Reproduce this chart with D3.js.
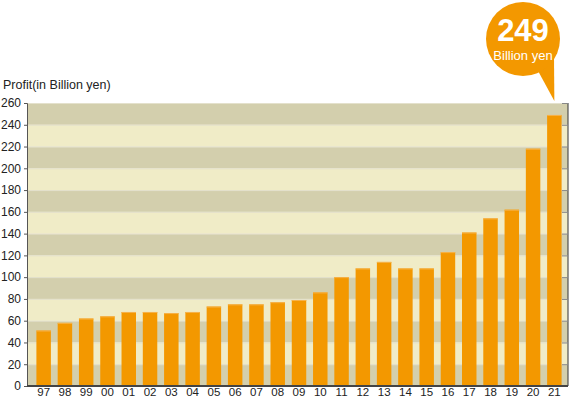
<!DOCTYPE html>
<html><head><meta charset="utf-8">
<script src="https://cdn.jsdelivr.net/npm/d3@7"></script>
<style>body{margin:0;background:#fff}svg{display:block;font-family:"Liberation Sans",Arial,sans-serif}</style>
</head><body><svg id="c" width="571" height="399"></svg>
<script>
const years = ["97","98","99","00","01","02","03","04","05","06","07","08","09","10","11","12","13","14","15","16","17","18","19","20","21"];
const profit = [51,58,62,64,68,68,67,68,73,75,75,77,79,86,100,108,114,108,108,123,141,154,162,218,249];
const yTicks = [0,20,40,60,80,100,120,140,160,180,200,220,240,260];
const highlightValue = "249";
const highlightUnit = "Billion yen";
const yTitle = "Profit(in Billion yen)";

const svg = d3.select("#c");
const L = 27, R = 568, T = 103, B = 386;
const y = d3.scaleLinear().domain([0,260]).range([B,T]);
const x = d3.scaleBand().domain(years).range([33,565]).paddingInner(0.32).paddingOuter(0.16);

// bands
const bands = d3.range(13);
svg.append("g").selectAll("rect").data(bands).join("rect")
  .attr("x", L).attr("width", R-L)
  .attr("y", d => y((d+1)*20)).attr("height", d => y(d*20)-y((d+1)*20))
  .attr("fill", d => d%2===0 ? "#d3cfad" : "#f0ecc7");
// light separators
svg.append("g").selectAll("line").data(yTicks.slice(1)).join("line")
  .attr("x1", L).attr("x2", R).attr("y1", d=>y(d)+0.5).attr("y2", d=>y(d)+0.5)
  .attr("stroke", "#e4e1cc").attr("stroke-width",1);

// bars
svg.append("g").selectAll("rect").data(years).join("rect")
  .attr("x", d => x(d)).attr("width", x.bandwidth())
  .attr("y", (d,i) => y(profit[i])).attr("height", (d,i) => B - y(profit[i]))
  .attr("fill", "#f39800");
svg.append("g").selectAll("line").data(years).join("line")
  .attr("x1", d => x(d)).attr("x2", d => x(d)+x.bandwidth())
  .attr("y1", (d,i) => y(profit[i])+0.5).attr("y2", (d,i) => y(profit[i])+0.5)
  .attr("stroke", "#f6b24a");

// left axis
const ya = svg.append("g").attr("transform", `translate(${L},0)`)
  .call(d3.axisLeft(y).tickValues(yTicks).tickSize(3).tickPadding(3));
ya.select(".domain").attr("stroke","#555");
ya.selectAll(".tick line").attr("stroke","#555");
ya.selectAll("text").attr("font-size",12).attr("fill","#222").attr("font-family","Liberation Sans, Arial, sans-serif");

// right axis
const yr = svg.append("g").attr("transform", `translate(${R},0)`)
  .call(d3.axisLeft(y).tickValues(yTicks).tickSize(6).tickFormat(""));
yr.select(".domain").attr("stroke","#333").attr("d", `M0,${T}V${B}`);
yr.selectAll(".tick line").attr("stroke","#888");

// bottom axis
const xa = svg.append("g").attr("transform", `translate(0,${B})`)
  .call(d3.axisBottom(x).tickSize(0).tickPadding(2));
xa.select(".domain").attr("stroke","#444").attr("stroke-width",2).attr("d", `M${L},0H${R}`);
xa.selectAll("text").attr("font-size",11.5).attr("fill","#222").attr("font-family","Liberation Sans, Arial, sans-serif");

// title
svg.append("text").attr("x",3).attr("y",89).attr("font-size",12.5).attr("fill","#222").text(yTitle);

// callout bubble
const last = years[years.length-1];
const tipX = x(last) + x.bandwidth()/2, tipY = y(260) - 2;
const cx = 523, cy = 39, r = 37;
svg.append("path")
  .attr("d", `M${cx+14},${cy+30} L${tipX},${tipY} L${cx+31},${cy+18} Z`)
  .attr("fill","#f39800");
svg.append("circle").attr("cx",cx).attr("cy",cy).attr("r",r).attr("fill","#f39800");
svg.append("text").attr("x",cx).attr("y",41).attr("text-anchor","middle")
  .attr("font-size",31).attr("font-weight","bold").attr("fill","#fff").text(highlightValue);
svg.append("text").attr("x",cx).attr("y",60).attr("text-anchor","middle")
  .attr("font-size",13).attr("fill","#fff").text(highlightUnit);
</script></body></html>
